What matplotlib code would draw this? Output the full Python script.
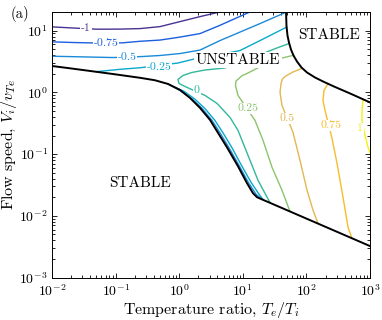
import matplotlib
matplotlib.use("Agg")
import matplotlib.pyplot as plt

plt.rcParams['font.family'] = 'serif'
plt.rcParams['font.serif'] = ['cmr10', 'DejaVu Serif']
plt.rcParams['mathtext.fontset'] = 'cm'
plt.rcParams['axes.formatter.use_mathtext'] = True

# ---- marginal stability boundary (black) ----
bnd_left_x = [0.01, 0.01919, 0.0396, 0.0979, 0.242, 0.4164, 0.667, 1.03, 1.479, 2.124, 3.05,
              4.07, 5.64, 8.41, 11.64, 14.47, 16.72, 18.6, 1000]
bnd_left_y = [2.67, 2.451, 2.22, 1.960, 1.72, 1.569, 1.367, 1.093, 0.812, 0.56, 0.358,
              0.2213, 0.1288, 0.0635, 0.0338, 0.02326, 0.02005, 0.0191, 0.00324]
bnd_right_x = [47.8, 48.6, 50.45, 53.25, 57.27, 62.7, 71.15, 83.75, 102.2, 136.5, 182.4, 281.7, 485, 1000]
bnd_right_y = [21.0, 12.04, 8.30, 6.40, 4.93, 3.947, 3.157, 2.525, 2.096, 1.741, 1.50, 1.222, 0.96, 0.687]

# ---- contour levels and their lines ----
levels = ['-1', '-0.75', '-0.5', '-0.25', '0', '0.25', '0.5', '0.75', '1']
colors = ['#4a3290', '#1a5fe0', '#1a8ad8', '#0ca8cc', '#30b89c',
          '#8cc46c', '#e2b850', '#f8bc2c', '#f4f018']

c_m100_x = [0.01, 0.023, 0.051, 0.1173, 0.242, 0.499, 1.03, 2.124, 3.93, 4.71]
c_m100_y = [11.48, 10.97, 10.53, 10.57, 10.77, 11.6, 13.98, 16.84, 19.54, 21.0]
c_m075_x = [0.01, 0.023, 0.0568, 0.126, 0.242, 0.499, 1.03, 2.124, 4.38, 7.53, 12.98]
c_m075_y = [6.57, 6.40, 6.28, 6.33, 6.71, 7.02, 7.85, 8.94, 12.18, 15.63, 20.04]
c_m050_x = [0.01, 0.02756, 0.091, 0.26, 0.499, 1.03, 2.124, 4.38, 9.03, 18.6, 46.1]
c_m050_y = [3.845, 3.76, 3.66, 3.80, 3.95, 4.25, 4.84, 6.89, 9.46, 12.97, 19.5]
c_m025_x = [0.0492, 0.1173, 0.242, 0.957, 2.124, 4.38, 9.03, 20.04, 48.9]
c_m025_y = [2.16, 2.36, 2.50, 2.985, 3.66, 4.10, 4.75, 7.15, 11.39]
c_000_x = [53.5, 35.8, 12.98, 5.25, 2.545, 1.589, 1.147, 0.957, 0.993, 1.279, 2.545, 3.93,
           6.29, 8.41, 9.71, 12.98, 17.34, 22.3, 26.8]
c_000_y = [6.17, 5.31, 3.53, 2.48, 2.30, 2.10, 1.875, 1.616, 1.393, 1.222, 0.891, 0.662,
           0.393, 0.2424, 0.167, 0.0794, 0.0377, 0.02326, 0.0164]
c_025_x = [62.5, 38.5, 20.8, 11.64, 9.71, 8.72, 7.82, 7.68, 8.41, 15.55, 20.8, 28.8, 41.3, 55.0]
c_025_y = [3.98, 3.53, 2.75, 2.02, 1.861, 1.677, 1.528, 1.293, 0.891, 0.3515, 0.167, 0.0612, 0.026, 0.0119]
c_050_x = [85.5, 61.5, 46.1, 42.1, 39.9, 38.5, 41.3, 61.5, 79.3, 102.2, 127.0, 152.2]
c_050_y = [2.45, 2.136, 1.807, 1.646, 1.393, 0.996, 0.614, 0.225, 0.0794, 0.026, 0.01237, 0.00753]
c_075_x = [218.0, 189.1, 182.4, 196.1, 252.7, 302.8, 376.3, 450.8, 521.0]
c_075_y = [1.38, 1.073, 0.740, 0.510, 0.18, 0.071, 0.02005, 0.00657, 0.00434]
c_100_x = [776, 748.5, 748.5, 834, 930, 1037]
c_100_y = [0.77, 0.51, 0.3515, 0.2012, 0.1288, 0.0956]

# branches squeezed along the steep part of the boundary
c_m050b_x = [0.667, 1.03, 1.589, 2.283, 3.28, 4.38, 6.07, 8.874, 12.29, 16.13, 19.33]
c_m050b_y = [1.367, 1.073, 0.785, 0.55, 0.352, 0.2208, 0.1264, 0.0635, 0.0344, 0.0224, 0.019]
c_m025b_x = [0.717, 1.19, 1.772, 2.545, 3.656, 4.884, 6.765, 9.71, 13.46, 17.34, 20.78]
c_m025b_y = [1.31, 1.04, 0.775, 0.545, 0.35, 0.2208, 0.1264, 0.0635, 0.035, 0.0237, 0.0184]

# inline label positions
lab_x = [0.0342, 0.0706, 0.151, 0.481, 1.905, 12.07, 49.5, 243.7, 696]
lab_y = [10.97, 6.28, 3.73, 2.57, 1.073, 0.5495, 0.379, 0.292, 0.261]

fig = plt.figure(figsize=(3.82, 3.20), dpi=100)
ax = fig.add_axes([0.1361, 0.1325, 0.8325, 0.83])
ax.set_xscale('log')
ax.set_yscale('log')
ax.set_xlim(1e-2, 1e3)
ax.set_ylim(1e-3, 20)

lines = [(c_m100_x, c_m100_y), (c_m075_x, c_m075_y), (c_m050_x, c_m050_y),
         (c_m025_x, c_m025_y), (c_000_x, c_000_y), (c_025_x, c_025_y),
         (c_050_x, c_050_y), (c_075_x, c_075_y), (c_100_x, c_100_y)]
for (xs, ys), col in zip(lines, colors):
    ax.plot(xs, ys, color=col, lw=1.0, zorder=2)
ax.plot(c_m050b_x, c_m050b_y, color=colors[2], lw=1.0, zorder=2)
ax.plot(c_m025b_x, c_m025b_y, color=colors[3], lw=1.0, zorder=2)

ax.plot(bnd_left_x, bnd_left_y, color='black', lw=1.4, zorder=3)
ax.plot(bnd_right_x, bnd_right_y, color='black', lw=1.4, zorder=3)

for lx, ly, s, col in zip(lab_x, lab_y, levels, colors):
    ax.text(lx, ly, s, color=col, fontsize=8.5, ha='center', va='center', zorder=4,
            bbox=dict(facecolor='white', edgecolor='none', pad=0.5))

ax.text(0.277, 0.356, 'STABLE', transform=ax.transAxes, fontsize=11,
        ha='center', va='center', zorder=5)
ax.text(0.585, 0.819, 'UNSTABLE', transform=ax.transAxes, fontsize=11,
        ha='center', va='center', zorder=5,
        bbox=dict(facecolor='white', edgecolor='none', pad=1.0))
ax.text(0.871, 0.913, 'STABLE', transform=ax.transAxes, fontsize=11,
        ha='center', va='center', zorder=5)

ax.set_xlabel(r'Temperature ratio, $T_e/T_i$', fontsize=11.5, labelpad=1)
ax.set_ylabel(r'Flow speed, $V_i/v_{Te}$', fontsize=11.5, labelpad=0)
fig.text(0.052, 0.955, '(a)', fontsize=10.5, ha='center', va='center')

ax.tick_params(which='both', direction='in', top=True, right=True, labelsize=10, width=0.6)
ax.tick_params(which='major', length=3.5)
ax.tick_params(axis='x', which='major', pad=4)
ax.tick_params(axis='y', which='major', pad=3)
ax.tick_params(which='minor', length=2)
for sp in ax.spines.values():
    sp.set_linewidth(0.7)

fig.savefig('out.png', dpi=100)
